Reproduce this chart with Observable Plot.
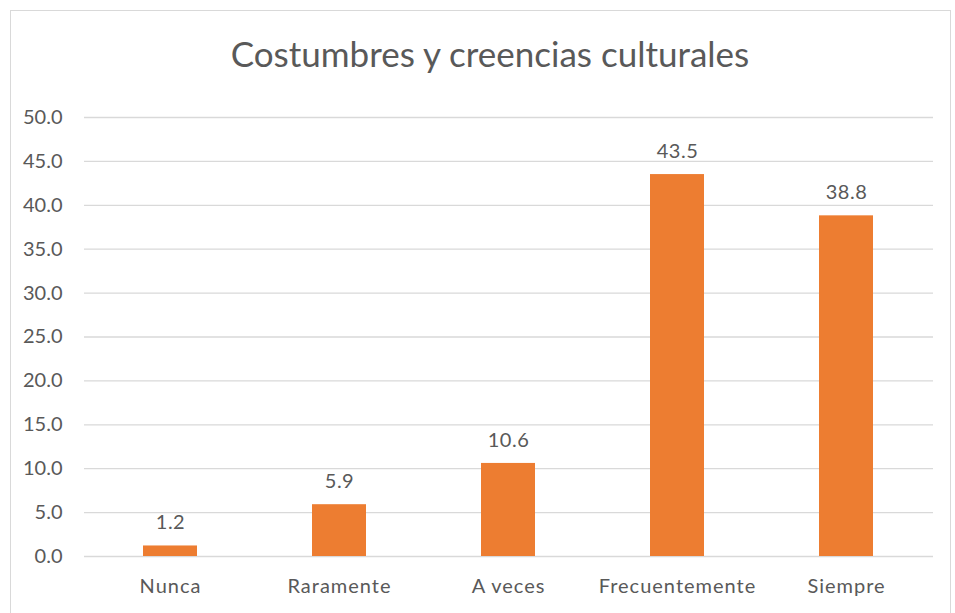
<!DOCTYPE html>
<html>
<head>
<meta charset="utf-8">
<script src="https://cdn.jsdelivr.net/npm/d3@7"></script>
<script src="https://cdn.jsdelivr.net/npm/@observablehq/plot@0.6"></script>
<style>
  html, body { margin: 0; padding: 0; background: #fff; }
  #wrap { position: relative; width: 955px; height: 613px; overflow: hidden; font-family: Lato, "Open Sans", sans-serif; }
  #frame { position: absolute; left: 10px; top: 10px; width: 941px; height: 620px; border: 1px solid #d9d9d9; box-sizing: border-box; }
  #title { position: absolute; left: 0; top: 0; width: 980px; height: 95px; line-height: 107px; text-align: center; font-size: 35px; color: #595959; }
  #chart { position: absolute; left: 0; top: 95px; }
</style>
</head>
<body>
<div id="wrap">
  <div id="frame"></div>
  <div id="title">Costumbres y creencias culturales</div>
  <div id="chart"></div>
</div>
<script>
const categories = ["Nunca", "Raramente", "A veces", "Frecuentemente", "Siempre"];
const values = [1.2, 5.9, 10.6, 43.5, 38.8];
const yTicks = [0, 5, 10, 15, 20, 25, 30, 35, 40, 45, 50];

const data = categories.map((c, i) => ({category: c, value: values[i]}));
const textColor = "#595959";

const plot = Plot.plot({
  width: 955,
  height: 518,
  marginTop: 22,
  marginBottom: 57,
  marginLeft: 84,
  marginRight: 22,
  style: {fontFamily: "Lato, 'Open Sans', sans-serif", fontSize: "20px", color: textColor, background: "transparent"},
  x: {domain: categories, paddingInner: 0.68, paddingOuter: 0.34, label: null},
  y: {domain: [0, 50], ticks: yTicks, label: null},
  marks: [
    Plot.gridY(yTicks, {stroke: "#d9d9d9", strokeOpacity: 1, strokeWidth: 1.3}),
    Plot.barY(data, {x: "category", y: "value", fill: "#ED7D31"}),
    Plot.text(data, {x: "category", y: "value", text: d => d.value.toFixed(1), dy: -23, fill: textColor, fontSize: 20}),
    Plot.axisY(yTicks, {tickSize: 0, tickPadding: 22, tickFormat: d => d.toFixed(1), fill: textColor, fontSize: 20}),
    Plot.axisX({tickSize: 0, tickPadding: 22, fill: textColor, fontSize: 20})
  ]
});
plot.querySelectorAll("[aria-label='x-axis tick label'] text").forEach(t => t.style.letterSpacing = "1px");
plot.querySelectorAll("[aria-label='text'] text").forEach(t => t.style.letterSpacing = "0.5px");
document.getElementById("chart").appendChild(plot);
</script>
</body>
</html>
